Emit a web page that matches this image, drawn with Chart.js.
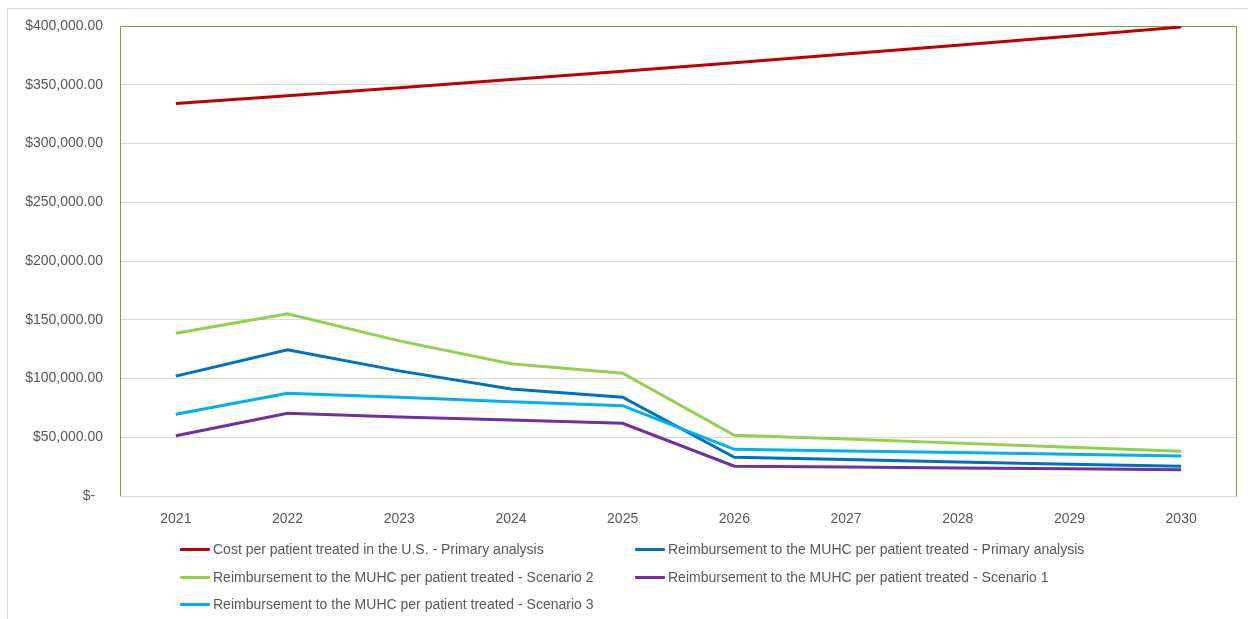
<!DOCTYPE html>
<html>
<head>
<meta charset="utf-8">
<script src="https://cdn.jsdelivr.net/npm/chart.js@4/dist/chart.umd.min.js"></script>
<style>
  html, body { margin: 0; padding: 0; background: #fff; }
  body { width: 1248px; height: 619px; position: relative; overflow: hidden; font-family: "Liberation Sans", Arial, sans-serif; }
  #frame { position: absolute; left: 7px; top: 8px; width: 1260px; height: 640px; border: 1px solid #d9d9d9; box-sizing: border-box; }
  #chart { position: absolute; left: 0; top: 0; }
  #legend { position: absolute; left: 0; top: 0; width: 1248px; height: 619px; pointer-events: none; }
  .item { position: absolute; display: flex; align-items: center; height: 20px; font-size: 14px; color: #595959; white-space: nowrap; }
  .swatch { display: inline-block; width: 30px; height: 3px; margin-right: 3px; border-radius: 1px; }
</style>
</head>
<body>
<div id="frame"></div>
<canvas id="chart" width="1248" height="619"></canvas>
<div id="legend"></div>
<script>
// Years on the horizontal axis
const years = ['2021', '2022', '2023', '2024', '2025', '2026', '2027', '2028', '2029', '2030'];

// Cost per patient treated in the U.S. (USD)
const costUS = [334000, 340700, 347500, 354400, 361500, 368800, 376200, 383700, 391300, 399100];

// Reimbursement to the MUHC per patient treated (USD)
const reimbPrimary   = [102000, 124500, 106500, 91000, 84000, 32900, 31000, 29000, 27000, 25300];
const reimbScenario2 = [138500, 155000, 132000, 112500, 104500, 51600, 48500, 45000, 41500, 38000];
const reimbScenario1 = [51300, 70400, 67200, 64700, 61900, 25300, 24600, 23900, 23100, 22400];
const reimbScenario3 = [69500, 87400, 84000, 80300, 76900, 39700, 38300, 37000, 35500, 34000];

// Series names as shown in the legend
const seriesNames = [
  'Cost per patient treated in the U.S. - Primary analysis',
  'Reimbursement to the MUHC per patient treated - Primary analysis',
  'Reimbursement to the MUHC per patient treated - Scenario 2',
  'Reimbursement to the MUHC per patient treated - Scenario 1',
  'Reimbursement to the MUHC per patient treated - Scenario 3'
];

const seriesColors = ['#c00000', '#0070c0', '#92d050', '#7030a0', '#00b0f0'];
const seriesData = [costUS, reimbPrimary, reimbScenario2, reimbScenario1, reimbScenario3];

const FONT = '"Liberation Sans", Arial, sans-serif';
const TEXT = '#595959';

function currency(v) {
  if (v === 0) return '$-  ';
  return '$' + v.toLocaleString('en-US', { minimumFractionDigits: 2, maximumFractionDigits: 2 });
}

// Olive frame around the plot area (left, top, right)
const plotFrame = {
  id: 'plotFrame',
  beforeDatasetsDraw(chart) {
    const { ctx, chartArea: a } = chart;
    ctx.save();
    ctx.strokeStyle = '#7f9f3f';
    ctx.lineWidth = 1;
    ctx.beginPath();
    ctx.moveTo(Math.round(a.left) + 0.5, Math.round(a.bottom));
    ctx.lineTo(Math.round(a.left) + 0.5, Math.round(a.top) + 0.5);
    ctx.lineTo(Math.round(a.right) - 0.5, Math.round(a.top) + 0.5);
    ctx.lineTo(Math.round(a.right) - 0.5, Math.round(a.bottom));
    ctx.stroke();
    ctx.restore();
  }
};

const datasets = seriesData.map((d, i) => ({
  label: seriesNames[i],
  data: d,
  borderColor: seriesColors[i],
  backgroundColor: seriesColors[i],
  borderWidth: 3,
  pointRadius: 0,
  pointHoverRadius: 0,
  tension: 0,
  fill: false,
  order: seriesData.length - i
}));

new Chart(document.getElementById('chart'), {
  type: 'line',
  data: { labels: years, datasets },
  plugins: [plotFrame],
  options: {
    responsive: false,
    animation: false,
    events: [],
    layout: { padding: { left: 0, right: 11, top: 26, bottom: 0 } },
    plugins: {
      legend: { display: false },
      tooltip: { enabled: false }
    },
    scales: {
      x: {
        type: 'category',
        offset: true,
        grid: { display: false, drawTicks: false },
        border: { display: true, color: '#d9d9d9', width: 1 },
        ticks: { color: TEXT, font: { family: FONT, size: 14 }, padding: 15, maxRotation: 0, autoSkip: false },
        afterFit(scale) { scale.height = 123; }
      },
      y: {
        min: 0,
        max: 400000,
        grid: { color: '#d9d9d9', lineWidth: 1, drawTicks: false },
        border: { display: false },
        ticks: {
          stepSize: 50000,
          color: TEXT,
          font: { family: FONT, size: 14 },
          padding: 17,
          callback: (v) => currency(v)
        },
        afterFit(scale) { scale.width = 120; }
      }
    }
  }
});

// Two-column legend beneath the plot
const legendBox = document.getElementById('legend');
const cols = [180, 635];
const rows = [549, 577, 604];
seriesNames.forEach((name, i) => {
  const item = document.createElement('div');
  item.className = 'item';
  item.style.left = cols[i % 2] + 'px';
  item.style.top = (rows[Math.floor(i / 2)] - 10) + 'px';
  const sw = document.createElement('span');
  sw.className = 'swatch';
  sw.style.background = seriesColors[i];
  const txt = document.createElement('span');
  txt.textContent = name;
  item.appendChild(sw);
  item.appendChild(txt);
  legendBox.appendChild(item);
});
</script>
</body>
</html>
